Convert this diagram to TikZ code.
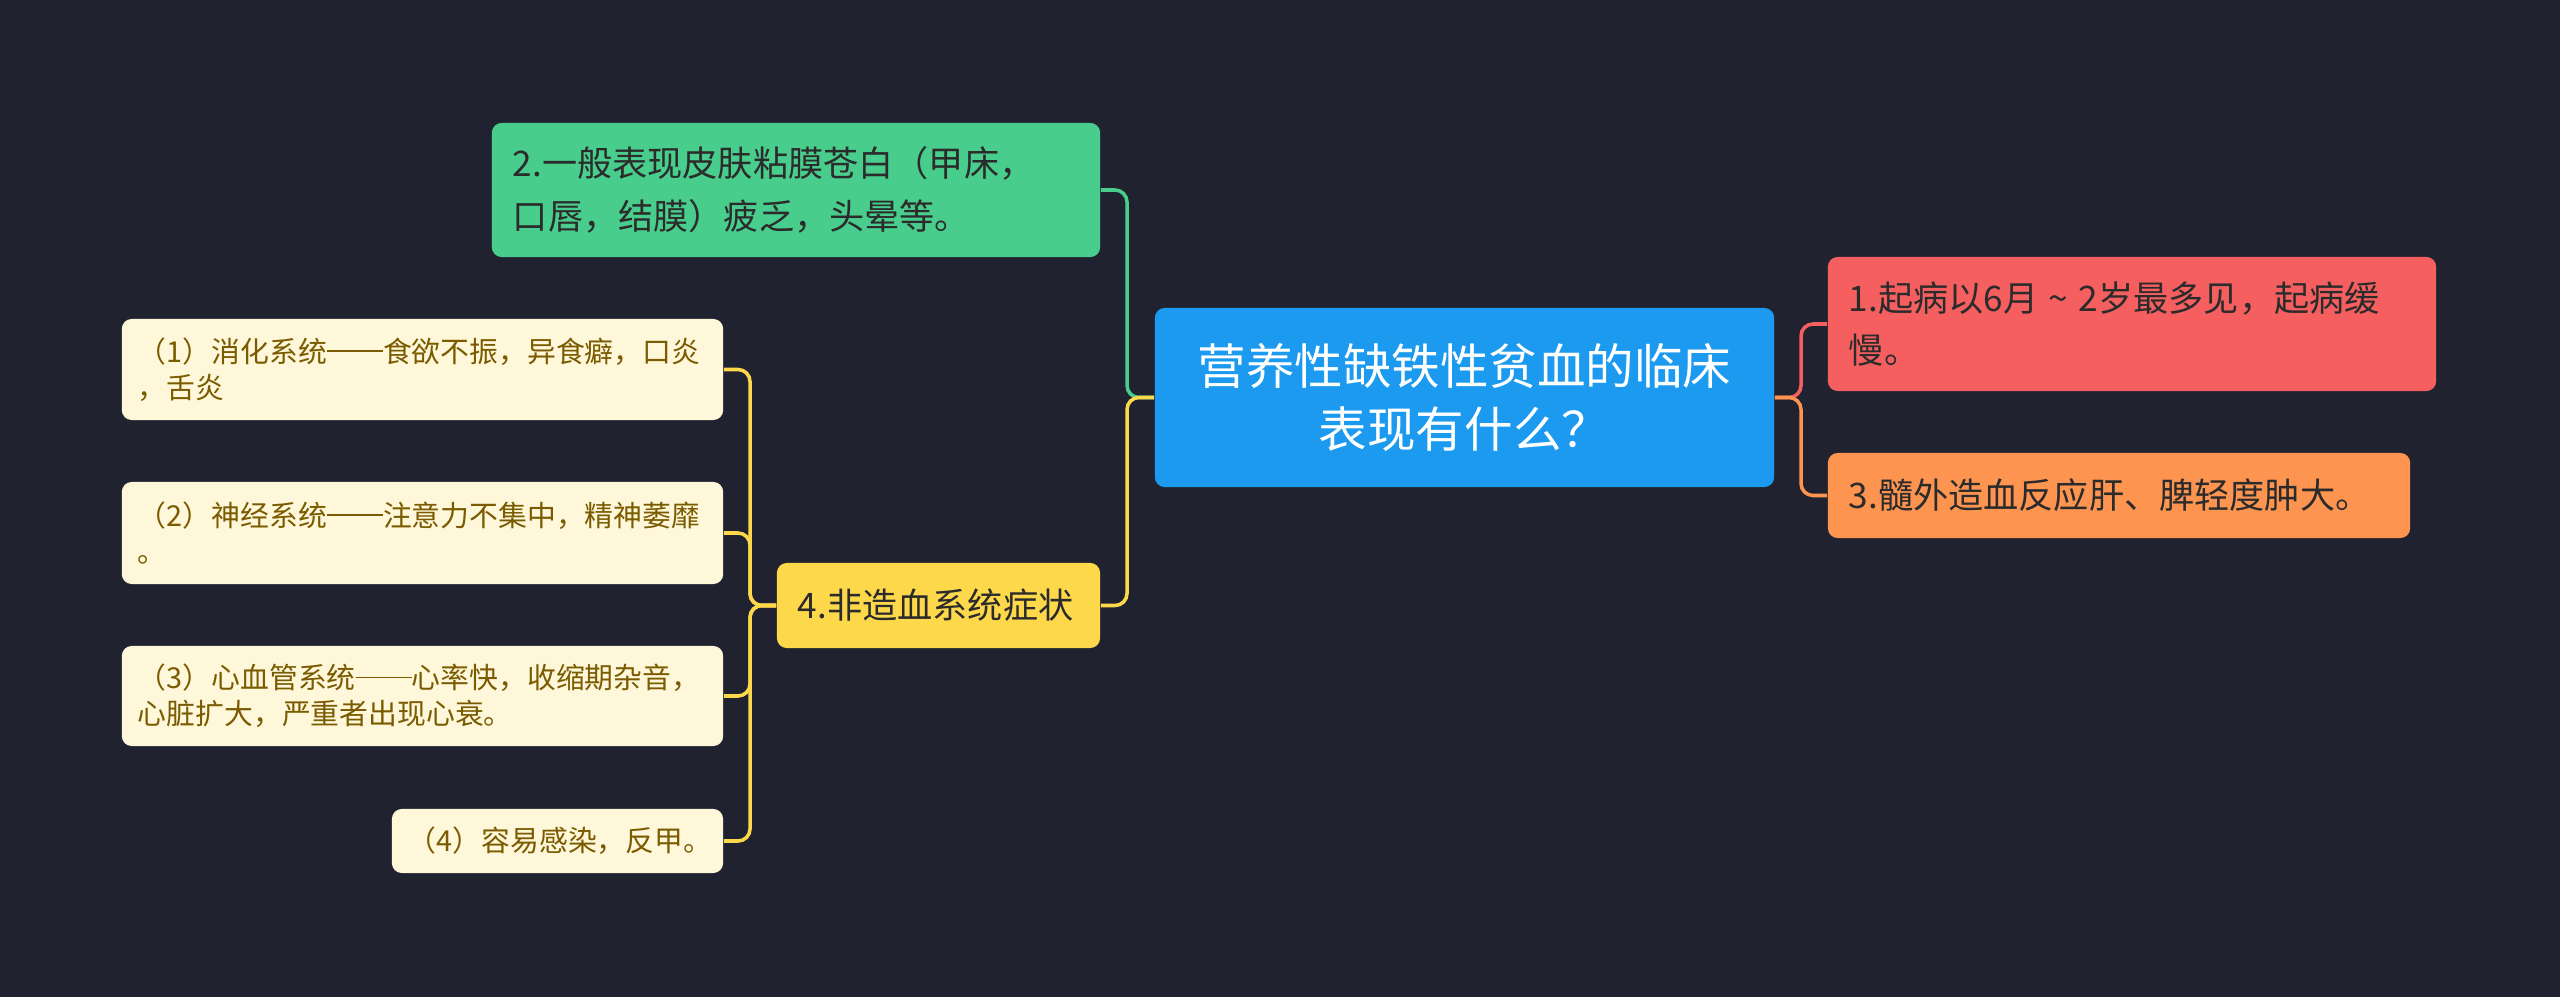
\documentclass[tikz,border=0pt]{standalone}
\usepackage{fontspec}
\newfontfamily\cjk{Noto Sans CJK SC}
\usetikzlibrary{positioning}

\definecolor{bgcol}{HTML}{20232F}
\definecolor{rootcol}{HTML}{1B9AEF}
\definecolor{redcol}{HTML}{F65F60}
\definecolor{orangecol}{HTML}{FD9551}
\definecolor{greencol}{HTML}{48CD8C}
\definecolor{yellowcol}{HTML}{FED84B}
\definecolor{creamcol}{HTML}{FFF7D9}
\definecolor{browncol}{HTML}{7A5B00}
\definecolor{inkcol}{HTML}{2B2B2B}

% two-em dash
\newcommand{\longdash}{\rule[0.36em]{1.95em}{0.06em}}

\tikzset{
  box/.style={rounded corners=2.8pt, inner ysep=0pt, align=left, text=inkcol},
  topic/.style={box, inner xsep=0.21cm, font=\cjk\fontsize{10pt}{15pt}\selectfont},
  subtopic/.style={box, fill=creamcol, text=browncol, inner xsep=0.16cm,
    font=\cjk\fontsize{8.2pt}{10.3pt}\selectfont},
  link/.style={line width=1pt, rounded corners=3.4pt}
}

\begin{document}
\begin{tikzpicture}[x=0.01cm,y=-0.01cm]
      \fill[bgcol] (0,0) rectangle (2560,997);
      \useasboundingbox (0,0) rectangle (2560,997);

      %% nodes
      \node[box, fill=rootcol, text=white, align=center, minimum width=6.19cm,
        minimum height=1.79cm, font=\cjk\fontsize{13.8pt}{17.9pt}\selectfont]
        (root) at (1464.5,397.5) {营养性缺铁性贫血的临床\\表现有什么？};

      \node[topic, fill=redcol, text width=5.66cm, minimum height=1.34cm]
        (n1) at (2132,324) {1.起病以6月\hspace{0.3em}\textasciitilde\hspace{0.3em}2岁最多见，起病缓\\慢。};
      \node[topic, fill=orangecol, text width=5.40cm, minimum height=0.85cm]
        (n3) at (2119,495.5) {3.髓外造血反应肝、脾轻度肿大。};
      \node[topic, fill=greencol, text width=5.66cm, minimum height=1.34cm]
        (n2) at (796,190) {2.一般表现皮肤粘膜苍白（甲床，\\口唇，结膜）疲乏，头晕等。};
      \node[topic, fill=yellowcol, text width=2.81cm, minimum height=0.85cm]
        (n4) at (938.5,605.5) {4.非造血系统症状};

      \node[subtopic, text width=5.69cm, minimum height=1.01cm]
        (s1) at (422.5,369.5) {（1）消化系统\longdash 食欲不振，异食癖，口炎\\，舌炎};
      \node[subtopic, text width=5.69cm, minimum height=1.02cm]
        (s2) at (422.5,533) {（2）神经系统\longdash 注意力不集中，精神萎靡\\。};
      \node[subtopic, text width=5.69cm, minimum height=1.00cm]
        (s3) at (422.5,696) {（3）心血管系统\longdash 心率快，收缩期杂音，\\心脏扩大，严重者出现心衰。};
      \node[subtopic, text width=2.99cm, minimum height=0.64cm]
        (s4) at (557.5,841) {（4）容易感染，反甲。};

      %% junctions
      \coordinate (rj) at (1801,397.5);
      \coordinate (lj) at (1127,397.5);
      \coordinate (yj) at (750,605.5);

      %% edges
      % root -> n1
      \draw[link, redcol] (root.east) -- (rj) |- (n1.west);
      % root -> n3
      \draw[link, orangecol] (root.east) -- (rj) |- (n3.west);
      % root -> n2
      \draw[link, greencol] (root.west) -- (lj) |- (n2.east);
      % root -> n4
      \draw[link, yellowcol] (root.west) -- (lj) |- (n4.east);
      % n4 -> s1 .. s4
      \draw[link, yellowcol] (n4.west) -- (yj) |- (s1.east);
      \draw[link, yellowcol] (n4.west) -- (yj) |- (s2.east);
      \draw[link, yellowcol] (n4.west) -- (yj) |- (s3.east);
      \draw[link, yellowcol] (n4.west) -- (yj) |- (s4.east);
\end{tikzpicture}
\end{document}
